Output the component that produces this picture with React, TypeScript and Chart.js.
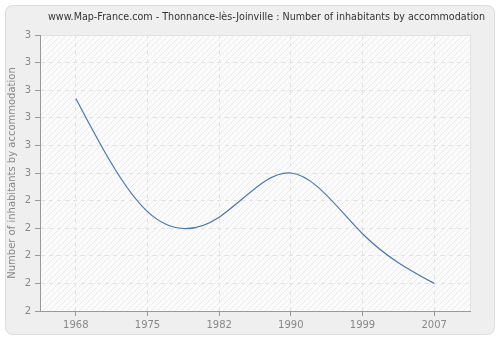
import React, { useEffect, useRef } from "react";
import { Chart, registerables } from "chart.js";

Chart.register(...registerables);

const TITLE = "www.Map-France.com - Thonnance-lès-Joinville : Number of inhabitants by accommodation";
const Y_TITLE = "Number of inhabitants by accommodation";
const years = ["1968", "1975", "1982", "1990", "1999", "2007"];
const inhabitantsPerAccommodation = [2.77, 2.36, 2.34, 2.5, 2.28, 2.1];
const yMin = 2;
const yMax = 3;
const yStep = 0.1;

function makeHatch(ctx: CanvasRenderingContext2D) {
  const c = document.createElement("canvas");
  c.width = 6;
  c.height = 6;
  const g = c.getContext("2d")!;
  g.fillStyle = "#fbfbfb";
  g.fillRect(0, 0, 6, 6);
  g.strokeStyle = "#ececec";
  g.lineWidth = 1;
  g.beginPath();
  g.moveTo(-1, 7);
  g.lineTo(7, -1);
  g.moveTo(-1, 1);
  g.lineTo(1, -1);
  g.moveTo(5, 7);
  g.lineTo(7, 5);
  g.stroke();
  return ctx.createPattern(c, "repeat");
}

const backgroundPlugin = {
  id: "bgPanel",
  beforeDraw(chart: any) {
    const { ctx, width, height, chartArea } = chart;
    ctx.save();
    ctx.fillStyle = "#ffffff";
    ctx.fillRect(0, 0, width, height);
    const x = 5.5, y = 5.5, w = width - 11, h = height - 11, r = 8;
    ctx.beginPath();
    ctx.moveTo(x + r, y);
    ctx.lineTo(x + w - r, y);
    ctx.quadraticCurveTo(x + w, y, x + w, y + r);
    ctx.lineTo(x + w, y + h - r);
    ctx.quadraticCurveTo(x + w, y + h, x + w - r, y + h);
    ctx.lineTo(x + r, y + h);
    ctx.quadraticCurveTo(x, y + h, x, y + h - r);
    ctx.lineTo(x, y + r);
    ctx.quadraticCurveTo(x, y, x + r, y);
    ctx.closePath();
    ctx.fillStyle = "#efefef";
    ctx.fill();
    ctx.strokeStyle = "#dcdcdc";
    ctx.lineWidth = 1;
    ctx.stroke();
    const pat = makeHatch(ctx);
    ctx.fillStyle = pat || "#fbfbfb";
    ctx.fillRect(chartArea.left, chartArea.top, chartArea.right - chartArea.left, chartArea.bottom - chartArea.top);
    ctx.strokeStyle = "#e2e2e2";
    ctx.strokeRect(chartArea.left + 0.5, chartArea.top + 0.5, chartArea.right - chartArea.left, chartArea.bottom - chartArea.top);
    // title
    ctx.fillStyle = "#333333";
    ctx.font = "11px 'DejaVu Sans'";
    ctx.textAlign = "left";
    ctx.textBaseline = "middle";
    const target = 437;
    const tw = ctx.measureText(TITLE).width;
    const sx = tw > target ? target / tw : 1;
    ctx.translate(chartArea.left + 8, 17);
    ctx.scale(sx, 1);
    ctx.fillText(TITLE, 0, 0);
    ctx.restore();
  },
};

// Replace Chart.js's default bezier control points with those of a natural cubic spline
// computed from the element positions the library's scales produced.
const naturalSplinePlugin = {
  id: "naturalSpline",
  beforeDatasetDraw(chart: any, args: any) {
    const meta = chart.getDatasetMeta(args.index);
    const line = meta.dataset;
    const pts = meta.data;
    if (!line || !pts || pts.length < 3) return;
    line.updateControlPoints(chart.chartArea, "x");
    const n = pts.length;
    const xs = pts.map((p: any) => p.x);
    const ys = pts.map((p: any) => p.y);
    const hs: number[] = [];
    for (let i = 0; i < n - 1; i++) hs.push(xs[i + 1] - xs[i]);
    // tridiagonal system for second derivatives M (natural: M0 = Mn-1 = 0)
    const M = new Array(n).fill(0);
    const a: number[] = [], b: number[] = [], c: number[] = [], d: number[] = [];
    for (let i = 1; i < n - 1; i++) {
      a.push(hs[i - 1]);
      b.push(2 * (hs[i - 1] + hs[i]));
      c.push(hs[i]);
      d.push(6 * ((ys[i + 1] - ys[i]) / hs[i] - (ys[i] - ys[i - 1]) / hs[i - 1]));
    }
    const m = b.length;
    const cp: number[] = new Array(m).fill(0);
    const dp: number[] = new Array(m).fill(0);
    cp[0] = c[0] / b[0];
    dp[0] = d[0] / b[0];
    for (let i = 1; i < m; i++) {
      const den = b[i] - a[i] * cp[i - 1];
      cp[i] = c[i] / den;
      dp[i] = (d[i] - a[i] * dp[i - 1]) / den;
    }
    const sol: number[] = new Array(m).fill(0);
    sol[m - 1] = dp[m - 1];
    for (let i = m - 2; i >= 0; i--) sol[i] = dp[i] - cp[i] * sol[i + 1];
    for (let i = 0; i < m; i++) M[i + 1] = sol[i];
    for (let i = 0; i < n - 1; i++) {
      const h = hs[i];
      const s = (ys[i + 1] - ys[i]) / h;
      const dl = s - (h * (2 * M[i] + M[i + 1])) / 6;
      const dr = s + (h * (M[i] + 2 * M[i + 1])) / 6;
      pts[i].cp2x = xs[i] + h / 3;
      pts[i].cp2y = ys[i] + (dl * h) / 3;
      pts[i + 1].cp1x = xs[i + 1] - h / 3;
      pts[i + 1].cp1y = ys[i + 1] - (dr * h) / 3;
    }
    pts[0].cp1x = xs[0];
    pts[0].cp1y = ys[0];
    pts[n - 1].cp2x = xs[n - 1];
    pts[n - 1].cp2y = ys[n - 1];
  },
};

export default function App() {
  const ref = useRef<HTMLCanvasElement>(null);
  useEffect(() => {
    const chart = new Chart(ref.current!, {
      type: "line",
      data: {
        labels: years,
        datasets: [
          {
            data: inhabitantsPerAccommodation,
            borderColor: "#4a78b0",
            borderWidth: 1.2,
            tension: 0.4,
            pointRadius: 0,
            fill: false,
          },
        ],
      },
      options: {
        animation: false,
        responsive: false,
        layout: { padding: { top: 35, right: 30, left: 0, bottom: 0 } },
        plugins: { legend: { display: false }, tooltip: { enabled: false }, title: { display: false } },
        scales: {
          x: {
            type: "category",
            offset: true,
            grid: {
              color: "#e2e2e2",
              tickColor: "#999999",
              tickLength: 5,
              offset: false,
            },
            border: { color: "#999999", width: 1, dash: [4, 4] },
            ticks: { color: "#888888", font: { family: "'DejaVu Sans'", size: 10 }, padding: 3, maxRotation: 0 },
            afterFit: (s: any) => {
              s.height = 29;
            },
          },
          y: {
            min: yMin,
            max: yMax,
            grid: { color: "#e2e2e2", tickColor: "#999999", tickLength: 5 },
            border: { color: "#999999", width: 1, dash: [4, 4] },
            ticks: {
              stepSize: yStep,
              color: "#888888",
              font: { family: "'DejaVu Sans'", size: 10 },
              padding: 4,
              callback: (v: any) => String(Math.round(Number(v))),
            },
            title: {
              display: true,
              text: Y_TITLE,
              color: "#888888",
              font: { family: "'DejaVu Sans'", size: 10 },
              padding: { top: 6, bottom: 0 },
            },
            afterFit: (s: any) => {
              s.width = 40;
            },
          },
        },
      },
      plugins: [backgroundPlugin, naturalSplinePlugin],
    });
    return () => chart.destroy();
  }, []);
  return (
    <div style={{ position: "fixed", left: 0, top: 0, width: 500, height: 340 }}>
      <canvas ref={ref} width={500} height={340} style={{ width: 500, height: 340, display: "block" }} />
    </div>
  );
}
